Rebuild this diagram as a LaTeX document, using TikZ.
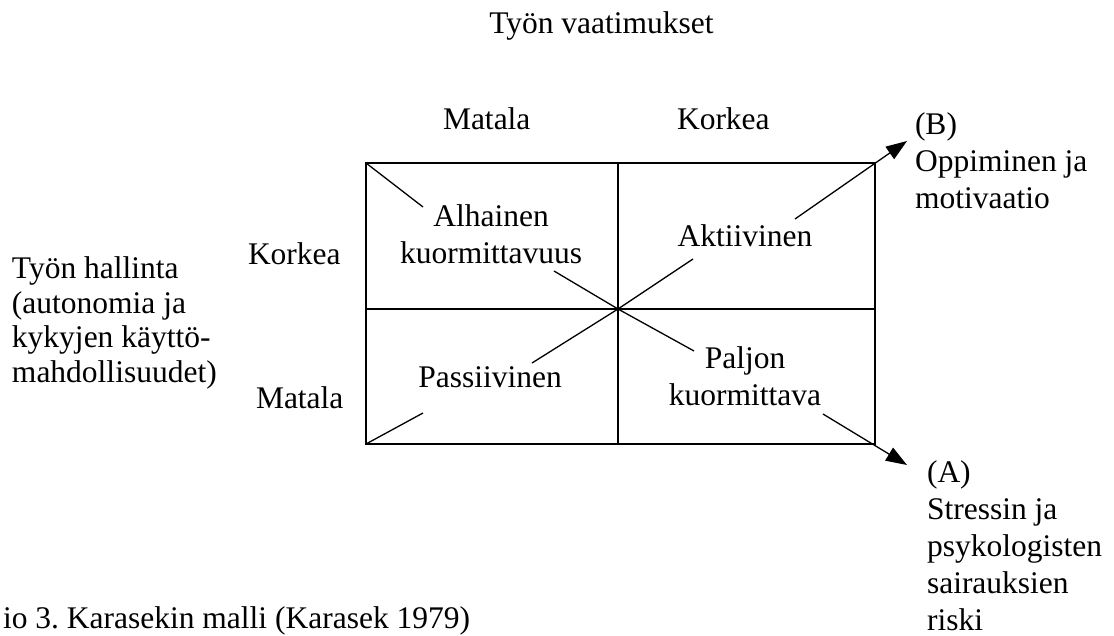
\documentclass[tikz,border=0pt]{standalone}
\usepackage{fontspec}
\setmainfont{Liberation Serif}
\usetikzlibrary{arrows.meta}
\frenchspacing
\newcommand{\blockL}[1]{\begin{tabular}[t]{@{}l@{}}#1\end{tabular}}
\newcommand{\blockC}[1]{\begin{tabular}[t]{@{}c@{}}#1\end{tabular}}
\tikzset{
  txt/.style={inner sep=0pt, outer sep=0pt, font=\fontsize{31.5}{37}\selectfont},
  txtleft/.style={inner sep=0pt, outer sep=0pt, font=\fontsize{31.5}{34.5}\selectfont},
  gridline/.style={line width=2.7pt, line cap=rect},
  diag/.style={line width=1.3pt},
  outarrow/.style={line width=1.3pt, -{Triangle[length=21pt,width=15pt]}}
}
\begin{document}
\begin{tikzpicture}[x=1pt,y=-1pt]
\useasboundingbox (0,0) rectangle (1114,636);
\fill[white] (0,0) rectangle (1114,636);
% grid coordinates
\coordinate (TL) at (366,163);
\coordinate (TR) at (875,163);
\coordinate (BL) at (366,444);
\coordinate (BR) at (875,444);
\coordinate (C)  at (618,309);
\coordinate (TM) at (618,163);
\coordinate (BM) at (618,444);
\coordinate (ML) at (366,309);
\coordinate (MR) at (875,309);
% diagonal segment ends
\coordinate (a1) at (423,207);
\coordinate (a2) at (554,271);
\coordinate (b1) at (423,413);
\coordinate (b2) at (532,363);
\coordinate (c1) at (693,259);
\coordinate (c2) at (795,219);
\coordinate (d1) at (694,351);
\coordinate (d2) at (823,414);
\coordinate (tipB) at (907,141);
\coordinate (tipA) at (907,465);
% box
\draw[gridline] (TL) rectangle (BR);
\draw[gridline] (TM) -- (BM);
\draw[gridline] (ML) -- (MR);
% diagonals
\draw[diag] (TL) -- (a1);
\draw[diag] (a2) -- (C);
\draw[diag] (BL) -- (b1);
\draw[diag] (b2) -- (C);
\draw[diag] (C) -- (c1);
\draw[outarrow] (c2) -- (tipB);
\draw[diag] (C) -- (d1);
\draw[outarrow] (d2) -- (tipA);
% texts
\node[txt, anchor=base] (title) at (601.5,34) {Työn vaatimukset};
\node[txt, anchor=base west] (colLow) at (443,130) {Matala};
\node[txt, anchor=base west] (colHigh) at (677,130) {Korkea};
\node[txt, anchor=base west] (rowHigh) at (248,265) {Korkea};
\node[txt, anchor=base west] (rowLow) at (256,408) {Matala};
\node[txtleft, anchor=base west] (control) at (12,279) {\blockL{Työn hallinta\\(autonomia ja\\kykyjen käyttö-\\mahdollisuudet)}};
\node[txt, anchor=base] (low) at (491,227) {\blockC{Alhainen\\kuormittavuus}};
\node[txt, anchor=base] (passive) at (490,388) {Passiivinen};
\node[txt, anchor=base] (active) at (745,247) {Aktiivinen};
\node[txt, anchor=base] (high) at (745,368) {\blockC{Paljon\\kuormittava}};
\node[txt, anchor=base west] (outB) at (915,135) {\blockL{(B)\\Oppiminen ja\\motivaatio}};
\node[txt, anchor=base west] (outA) at (927,482) {\blockL{(A)\\Stressin ja\\psykologisten\\sairauksien\\riski}};
\node[txt, anchor=base west] (caption) at (3,628) {io 3. Karasekin malli (Karasek 1979)};
\end{tikzpicture}
\end{document}
